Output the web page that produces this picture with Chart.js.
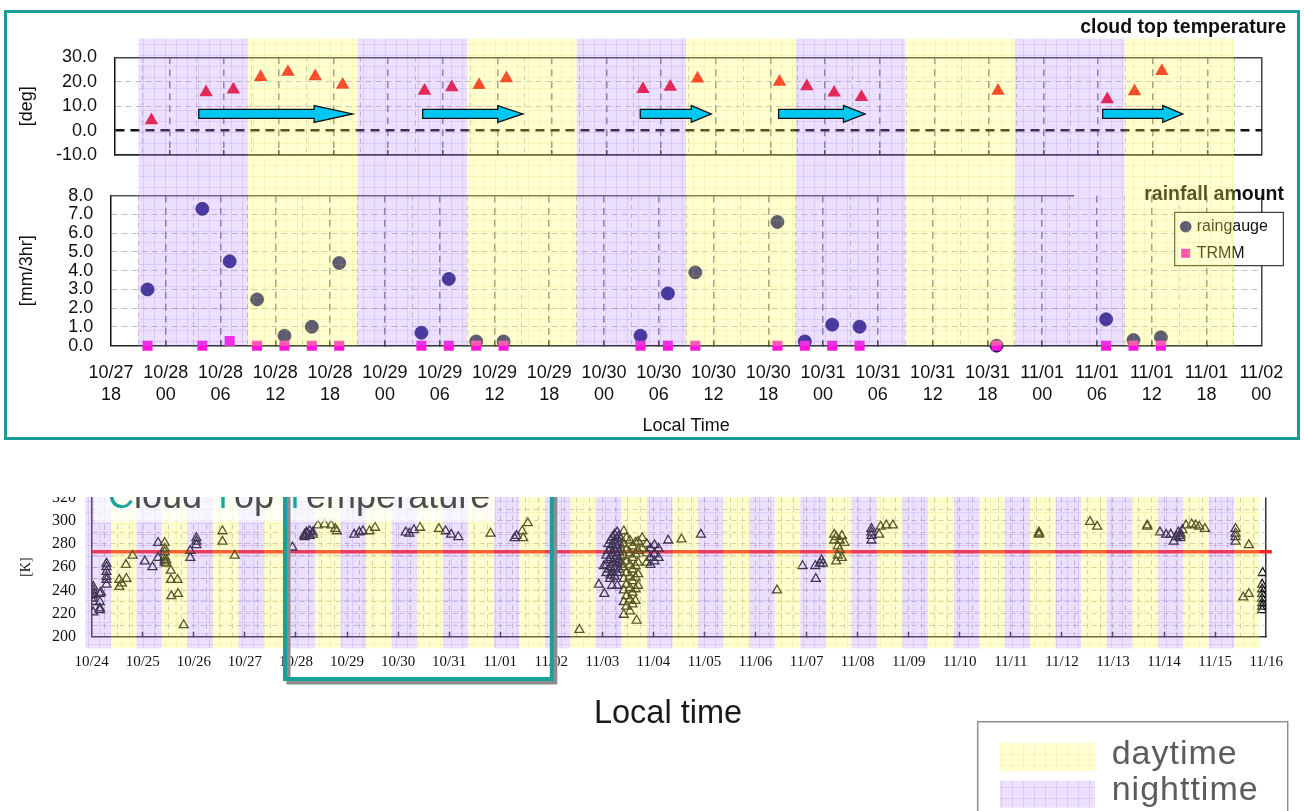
<!DOCTYPE html>
<html><head><meta charset="utf-8">
<script src="https://cdn.jsdelivr.net/npm/chart.js"></script>
<style>
html,body{margin:0;padding:0;background:#fff;width:1304px;height:811px;overflow:hidden;}
#frameTop{position:absolute;left:4px;top:10px;width:1296px;height:430px;box-sizing:border-box;border:3px solid #179c97;z-index:3;}
#cTemp,#cRain{position:absolute;left:0;top:0;}
#cTemp{z-index:1}
#cRain{z-index:2}
#bottomWrap{position:absolute;left:0;top:497px;width:1304px;height:314px;overflow:hidden;}
#cCtt{position:absolute;left:0;top:-40px;}
</style></head><body>
<div id="frameTop"></div>
<canvas id="cTemp" width="1304" height="445"></canvas>
<canvas id="cRain" width="1304" height="445"></canvas>
<div id="bottomWrap"><canvas id="cCtt" width="1304" height="354"></canvas></div>
<script>
// ---------------- DATA (top panel: hours after 10/27 18:00 local) ----------------
const topTickDates = ['10/27','10/28','10/28','10/28','10/28','10/29','10/29','10/29','10/29','10/30','10/30','10/30','10/30','10/31','10/31','10/31','10/31','11/01','11/01','11/01','11/01','11/02'];
const topTickHours = ['18','00','06','12','18','00','06','12','18','00','06','12','18','00','06','12','18','00','06','12','18','00'];
const obsHours = [4,10,13,16,19,22,25,34,37,40,43,58,61,64,73,76,79,82,97,109,112,115];
const cloudTopTempDeg = [4.2,15.7,16.8,21.9,24.0,22.2,18.7,16.3,17.7,18.6,21.4,17.0,17.9,21.3,20.0,18.1,15.5,13.7,16.3,12.8,16.1,24.4];
const raingaugeMm = [3.0,7.3,4.5,2.47,0.53,1.01,4.41,0.69,3.56,0.23,0.23,0.53,2.79,3.91,6.6,0.23,1.12,1.01,0.0,1.41,0.3,0.45];
const trmmMm = [0,0,0.25,0,0,0,0,0,0,0,0,0,0,0,0,0,0,0,0,0,0,0];
const arrowStartHours = [9.2,33.8,57.7,72.9,108.5];
const arrowEndHours = [26.1,44.8,65.5,82.4,117.3];
const arrowLevelDeg = 6.8;
const topNightBands = [[3,15],[27,39],[51,63],[75,87],[99,111]];
const topDayBands = [[15,27],[39,51],[63,75],[87,99],[111,123]];

// ---------------- DATA (bottom panel: days after 10/24 00:00 local, K) ----------------
const cttDateLabels = ['10/24','10/25','10/26','10/27','10/28','10/29','10/30','10/31','11/01','11/02','11/03','11/04','11/05','11/06','11/07','11/08','11/09','11/10','11/11','11/12','11/13','11/14','11/15','11/16'];
const cttDay = [
 0.03,0.03,0.03,0.03,0.03,0.03,0.03,
 0.16,0.16,0.16,0.16,0.18,
 0.29,0.29,0.29,0.29,0.29,0.29,
 0.54,0.54,0.59,0.67,0.68,0.80,1.04,1.19,
 1.30,1.30,1.43,1.43,1.43,1.43,1.43,1.43,1.46,1.46,
 1.55,1.55,1.56,1.68,1.69,1.80,1.93,1.93,
 2.05,2.05,2.05,2.56,2.56,2.80,3.93,
 4.17,4.17,4.17,4.21,4.21,4.27,4.27,4.33,4.33,
 4.43,4.56,4.69,4.77,4.80,5.14,5.24,5.31,5.44,5.55,
 6.15,6.22,6.31,6.43,6.80,6.93,7.04,7.18,7.81,
 8.28,8.32,8.43,8.45,8.54,9.55,
 9.93,10.03,10.04,10.08,10.08,10.08,
 10.12,10.12,10.12,10.12,10.15,
 10.16,10.16,10.16,10.16,10.16,10.19,
 10.20,10.20,10.20,10.20,10.20,
 10.24,10.24,10.24,10.24,10.24,10.24,
 10.29,10.29,10.29,10.29,10.29,10.29,10.29,
 10.33,10.33,10.33,10.33,10.33,
 10.36,10.36,10.36,10.36,
 10.42,10.42,10.42,10.42,10.42,10.42,10.42,10.42,
 10.47,10.47,10.47,10.47,10.47,10.47,10.47,
 10.54,10.54,10.54,10.54,10.54,10.54,10.54,
 10.59,10.59,10.59,10.59,10.59,10.59,
 10.65,10.65,10.65,10.65,10.65,10.65,10.67,
 10.70,10.70,10.70,10.70,10.70,10.78,10.78,
 10.87,10.87,10.87,10.94,10.94,10.94,
 11.02,11.02,11.02,11.10,11.10,
 11.29,11.55,11.93,
 13.42,13.92,14.17,14.18,14.26,14.29,14.32,
 14.54,14.54,14.58,14.58,14.61,14.61,14.65,14.65,14.69,14.69,14.74,
 15.27,15.27,15.27,15.27,15.42,15.45,15.56,15.69,
 18.55,18.55,18.55,19.55,19.69,20.67,20.67,
 20.92,21.04,21.13,21.19,21.24,21.28,21.32,21.32,21.32,
 21.36,21.43,21.54,21.62,21.69,21.80,
 22.40,22.40,22.40,22.40,22.55,22.66,22.66,
 22.92,22.92,22.92,22.92,22.92,22.92,22.92,22.93
];
const cttK = [
 243,240,237,236,233,230,221,
 237,230,224.5,223,238,
 263,260,256,252,249,245,
 249,243,246,262,250,270,265,260,
 281,268,281,276,273,269,266,264,266,263,
 257,249,235,249,237,210,268,274,
 285,282,279,291,282,270,277,
 286,287,288,289,290,287,291,288,290,
 296,297,296,293,291,288,290,291,291,294,
 290,289,292,294,293,291,288,286,289,
 285,287,291,285,298,206,
 245,261,237,255,262,270,
 258,266,274,280,250,
 253,260,268,276,283,244,
 256,264,272,279,286,
 252,259,267,275,282,288,
 244,255,263,270,278,285,290,
 258,266,273,281,287,
 262,269,276,284,
 291,280,270,260,250,240,230,219,
 285,275,265,255,245,235,226,
 283,272,262,252,242,232,222,
 278,268,258,248,238,228,
 281,271,261,251,241,231,214,
 282,274,264,254,244,285,276,
 280,272,264,276,268,262,
 279,271,265,276,268,
 283,284,288,
 240,261,261,250,263,266,263,
 288,283,286,265,278,270,283,275,287,268,281,
 293,290,287,283,288,295,296,296,
 290,288,289,299,295,296,295,
 290,288,288,282,286,290,289,285,287,
 292,296,297,296,295,293,
 293,289,286,282,234,237,279,
 245,241,237,233,229,226,223,255
];
const freezingK = 273.15;
const freezingLineDays = [0, 23.11];
const cttNightBands = [[-0.125,0.375],[0.875,1.375],[1.875,2.375],[2.875,3.375],[3.875,4.375],[4.875,5.375],[5.875,6.375],[6.875,7.375],[7.875,8.375],[8.875,9.375],[9.875,10.375],[10.875,11.375],[11.875,12.375],[12.875,13.375],[13.875,14.375],[14.875,15.375],[15.875,16.375],[16.875,17.375],[17.875,18.375],[18.875,19.375],[19.875,20.375],[20.875,21.375],[21.875,22.375]];
const cttDayBands = [[0.375,0.875],[1.375,1.875],[2.375,2.875],[3.375,3.875],[4.375,4.875],[5.375,5.875],[6.375,6.875],[7.375,7.875],[8.375,8.875],[9.375,9.875],[10.375,10.875],[11.375,11.875],[12.375,12.875],[13.375,13.875],[14.375,14.875],[15.375,15.875],[16.375,16.875],[17.375,17.875],[18.375,18.875],[19.375,19.875],[20.375,20.875],[21.375,21.875],[22.375,22.875]];
const zoomWindowDays = [3.75, 9];

// ---------------- helpers ----------------
const SANS = '"Liberation Sans", Arial, sans-serif';
const SERIF = '"Liberation Serif", "Times New Roman", serif';
Chart.defaults.font.family = SANS;
Chart.defaults.color = '#111';

function makePattern(ctx, base, line, step) {
  const c = document.createElement('canvas'); c.width = step; c.height = step;
  const g = c.getContext('2d');
  g.fillStyle = base; g.fillRect(0, 0, step, step);
  g.fillStyle = line; g.fillRect(0, 0, step, 1); g.fillRect(0, 0, 1, step);
  return ctx.createPattern(c, 'repeat');
}
const purplePat = ctx => makePattern(ctx, 'rgba(181,135,255,0.26)', 'rgba(140,80,230,0.16)', 11);
const yellowPat = ctx => makePattern(ctx, 'rgba(255,255,91,0.275)', 'rgba(210,210,40,0.16)', 11);
function drawBands(ctx, scale, bands, pat, top, bottom) {
  ctx.fillStyle = pat;
  bands.forEach(([a, b]) => {
    const x1 = scale.getPixelForValue(a), x2 = scale.getPixelForValue(b);
    ctx.fillRect(x1, top, x2 - x1, bottom - top);
  });
}
function tv(c) { return c && c.tick ? c.tick.value : null; }

const hourGrid = {
  color: c => { const v = tv(c); if (v === null || v === 0) return 'rgba(0,0,0,0)'; if (v === 126) return '#444'; return v % 6 === 0 ? 'rgba(95,85,105,0.75)' : 'rgba(150,150,150,0.55)'; },
  lineWidth: c => { const v = tv(c); return (v !== null && v % 6 === 0) ? 1.5 : 1; },
  drawTicks: true,
  tickLength: -5,
  tickColor: c => { const v = tv(c); return (v !== null && v % 6 === 0 && v !== 0 && v !== 126) ? '#333' : 'rgba(0,0,0,0)'; },
  tickWidth: 1.5
};
const hourBorder = { display: true, color: '#222', width: 1.5,
  dash: c => { const v = tv(c); if (v === null || v === 126) return []; return v % 6 === 0 ? [7, 5] : [5, 4]; } };

// ---------------- top chart: cloud top temperature ----------------
const tempChart = new Chart(document.getElementById('cTemp'), {
  type: 'scatter',
  data: { datasets: [{
    label: 'cloud top temperature',
    data: obsHours.map((h, i) => ({ x: h, y: cloudTopTempDeg[i] })),
    pointStyle: 'triangle', pointRadius: 7.8, clip: false,
    backgroundColor: '#F5081A', pointBackgroundColor: '#F5081A',
    borderColor: '#F5081A', pointBorderColor: '#F5081A', pointBorderWidth: 0
  }]},
  options: {
    responsive: false, animation: false, devicePixelRatio: 1,
    layout: { padding: { top: 57.3, right: 42, left: 0, bottom: 0 } },
    plugins: { legend: { display: false }, tooltip: { enabled: false }, title: { display: false } },
    scales: {
      x: { type: 'linear', min: 0, max: 126,
        ticks: { display: false, stepSize: 3, autoSkip: false, maxRotation: 0 },
        grid: hourGrid, border: hourBorder,
        afterFit: s => { s.height = 290; } },
      y: { type: 'linear', min: -10, max: 30,
        ticks: { stepSize: 10, autoSkip: false, padding: 18, font: { size: 18 }, color: '#111', callback: v => v.toFixed(1) },
        grid: {
          drawTicks: false,
          color: c => { const v = tv(c); if (v === 30 || v === -10) return '#444'; if (v === 0) return '#111'; return 'rgba(150,150,150,0.6)'; },
          lineWidth: c => { const v = tv(c); if (v === 0) return 2.5; if (v === 30 || v === -10) return 1.5; return 1; }
        },
        border: { display: true, color: '#111', width: 1.5,
          dash: c => { const v = tv(c); if (v === 0) return [9, 6]; if (v === null || v === 30 || v === -10) return []; return [6, 4]; } },
        title: { display: true, text: '[deg]', font: { size: 18 }, color: '#111', padding: { top: 16.2, bottom: 0 } },
        afterFit: s => { s.width = 115; } }
    }
  },
  plugins: [{
    id: 'tempTitle',
    afterDraw(chart) {
      const ctx = chart.ctx;
      ctx.save();
      ctx.font = 'bold 19.5px ' + SANS; ctx.fillStyle = '#111';
      ctx.textAlign = 'right'; ctx.textBaseline = 'middle';
      ctx.fillText('cloud top temperature', 1286, 27.5);
      ctx.restore();
    }
  }]
});

// ---------------- top panel: rainfall amount (draws day/night overlay for the whole panel) ----------------
function drawArrow(ctx, x1, x2, yc) {
  const len = x2 - x1, head = Math.max(20, 0.25 * len), sh = 4.5, hh = 8.4;
  ctx.beginPath();
  ctx.moveTo(x1, yc - sh); ctx.lineTo(x2 - head, yc - sh); ctx.lineTo(x2 - head, yc - hh);
  ctx.lineTo(x2, yc); ctx.lineTo(x2 - head, yc + hh); ctx.lineTo(x2 - head, yc + sh);
  ctx.lineTo(x1, yc + sh); ctx.closePath();
  ctx.fillStyle = '#00C6F2'; ctx.fill();
  ctx.strokeStyle = '#111'; ctx.lineWidth = 1.3; ctx.stroke();
}

const rainChart = new Chart(document.getElementById('cRain'), {
  type: 'scatter',
  data: { datasets: [
    { label: 'TRMM', data: obsHours.map((h, i) => ({ x: h, y: trmmMm[i] })),
      pointStyle: 'rect', pointRadius: 7.1, order: 1, clip: false,
      backgroundColor: '#FF14DC', pointBackgroundColor: '#FF14DC', borderColor: '#FF14DC', pointBorderWidth: 0 },
    { label: 'raingauge', data: obsHours.map((h, i) => ({ x: h, y: raingaugeMm[i] })),
      pointStyle: 'circle', pointRadius: 6.5, order: 2, clip: false,
      backgroundColor: '#221E7E', pointBackgroundColor: '#221E7E', borderColor: '#15124F', pointBorderColor: '#15124F', pointBorderWidth: 0.8 }
  ]},
  options: {
    responsive: false, animation: false, devicePixelRatio: 1,
    layout: { padding: { top: 195.7, right: 39, left: 0, bottom: 0 } },
    plugins: { legend: { display: false }, tooltip: { enabled: false }, title: { display: false } },
    scales: {
      x: { type: 'linear', min: 0, max: 126,
        ticks: { stepSize: 3, autoSkip: false, maxRotation: 0, minRotation: 0, padding: 20.85,
          font: { size: 18, lineHeight: 1.24 }, color: '#111',
          callback: v => (v % 6 === 0 ? [topTickDates[v / 6], topTickHours[v / 6]] : '') },
        grid: hourGrid, border: hourBorder,
        title: { display: true, text: 'Local Time', font: { size: 18 }, color: '#111', padding: { top: 0, bottom: 8.2 } },
        afterFit: s => { s.height = 99.3; } },
      y: { type: 'linear', min: 0, max: 8,
        ticks: { stepSize: 1, autoSkip: false, padding: 17.7, font: { size: 18 }, color: '#111', callback: v => v.toFixed(1) },
        grid: { drawTicks: false,
          color: c => { const v = tv(c); if (v === null || v === 0 || v === 8) return 'rgba(0,0,0,0)'; return 'rgba(150,150,150,0.6)'; },
          lineWidth: 1 },
        border: { display: true, color: '#111', width: 1.5, dash: c => (tv(c) === null ? [] : [6, 4]) },
        title: { display: true, text: '[mm/3hr]', font: { size: 18 }, color: '#111', padding: { top: 16.2, bottom: 0 } },
        afterFit: s => { s.width = 111; } }
    }
  },
  plugins: [{
    id: 'rainDecor',
    afterDatasetsDraw(chart) {
      const { ctx, scales: { x, y } } = chart;
      ctx.save();
      // partial top frame line
      ctx.strokeStyle = '#555'; ctx.lineWidth = 1.5;
      ctx.beginPath(); ctx.moveTo(x.getPixelForValue(0), y.getPixelForValue(8));
      ctx.lineTo(x.getPixelForValue(105.5), y.getPixelForValue(8)); ctx.stroke();
      // title
      ctx.font = 'bold 19.5px ' + SANS; ctx.fillStyle = '#111';
      ctx.textAlign = 'right'; ctx.textBaseline = 'middle';
      ctx.fillText('rainfall amount', 1284, 195);
      // legend
      ctx.fillStyle = '#fff'; ctx.fillRect(1174.7, 212.3, 108.6, 53.4);
      ctx.strokeStyle = '#111'; ctx.lineWidth = 1; ctx.strokeRect(1174.7, 212.3, 108.6, 53.4);
      const gauge = chart.data.datasets[1], trmm = chart.data.datasets[0];
      ctx.fillStyle = gauge.backgroundColor;
      ctx.beginPath(); ctx.arc(1185.7, 226.7, 5.8, 0, Math.PI * 2); ctx.fill();
      ctx.fillStyle = trmm.backgroundColor;
      ctx.fillRect(1181.2, 248.8, 9, 9);
      ctx.font = '16px ' + SANS; ctx.fillStyle = '#111'; ctx.textAlign = 'left';
      ctx.fillText(gauge.label, 1196.7, 227);
      ctx.fillText(trmm.label, 1196.7, 253.5);
      ctx.restore();
    },
    afterDraw(chart) {
      const { ctx, scales: { x }, chartArea } = chart;
      ctx.save();
      drawBands(ctx, x, topNightBands, purplePat(ctx), 38.5, chartArea.bottom);
      drawBands(ctx, x, topDayBands, yellowPat(ctx), 38.5, chartArea.bottom);
      // arrows on the temperature panel (use that chart's scales)
      const tx = tempChart.scales.x, ty = tempChart.scales.y;
      arrowStartHours.forEach((s, i) => {
        drawArrow(ctx, tx.getPixelForValue(s), tx.getPixelForValue(arrowEndHours[i]), ty.getPixelForValue(arrowLevelDeg));
      });
      ctx.restore();
    }
  }]
});

// ---------------- bottom chart: Cloud Top Temperature (K) ----------------
const cttChart = new Chart(document.getElementById('cCtt'), {
  type: 'scatter',
  data: { datasets: [
    { label: 'cloud top temperature [K]', data: cttDay.map((d, i) => ({ x: d, y: cttK[i] })),
      pointStyle: 'triangle', pointRadius: 5.2, order: 1,
      backgroundColor: 'rgba(0,0,0,0)', pointBackgroundColor: 'rgba(0,0,0,0)',
      borderColor: '#151515', pointBorderColor: '#151515', pointBorderWidth: 1.3 },
    { label: '273 K', data: freezingLineDays.map(d => ({ x: d, y: freezingK })),
      showLine: true, borderColor: 'rgb(255,35,35)', borderWidth: 3.5, pointRadius: 0, clip: false, order: 2 }
  ]},
  options: {
    responsive: false, animation: false, devicePixelRatio: 1,
    layout: { padding: { top: 40.5, right: 34.7, left: 0, bottom: 0 } },
    plugins: { legend: { display: false }, tooltip: { enabled: false }, title: { display: false } },
    scales: {
      x: { type: 'linear', min: 0, max: 23,
        ticks: { stepSize: 0.25, autoSkip: false, maxRotation: 0, minRotation: 0, padding: 21,
          font: { family: SERIF, size: 15 }, color: '#111',
          callback: v => (Number.isInteger(v) ? cttDateLabels[v] : '') },
        grid: {
          color: c => { const v = tv(c); if (v === null || v === 0) return 'rgba(0,0,0,0)'; if (v === 23) return '#333'; return 'rgba(140,140,140,0.5)'; },
          lineWidth: c => (tv(c) === 23 ? 1.5 : 1),
          drawTicks: true, tickLength: -5, tickWidth: 1.5,
          tickColor: c => { const v = tv(c); return (v !== null && Number.isInteger(v) && v > 0 && v < 23) ? '#333' : 'rgba(0,0,0,0)'; }
        },
        border: { display: true, color: '#333', width: 1.5, dash: c => { const v = tv(c); return (v === null || v === 23) ? [] : [5, 4]; } },
        afterFit: s => { s.height = 174.3; } },
      y: { type: 'linear', min: 200, max: 320,
        ticks: { stepSize: 10, autoSkip: false, padding: 15.7, font: { family: SERIF, size: 16 }, color: '#111',
          callback: v => (v % 20 === 0 ? String(v) : '') },
        grid: { drawTicks: false,
          color: c => { const v = tv(c); if (v === null || v === 200 || v === 320) return 'rgba(0,0,0,0)'; return 'rgba(140,140,140,0.5)'; },
          lineWidth: 1 },
        border: { display: true, color: '#333', width: 1.5, dash: c => (tv(c) === null ? [] : [5, 4]) },
        title: { display: true, text: '[K]', font: { family: SERIF, size: 14 }, color: '#111', padding: { top: 18.3, bottom: 0 } },
        afterFit: s => { s.width = 91.7; } }
    }
  },
  plugins: [{
    id: 'cttDecor',
    afterDraw(chart) {
      const { ctx, scales: { x } } = chart;
      ctx.save();
      // day / night overlay
      drawBands(ctx, x, cttNightBands, purplePat(ctx), 30, 191.3);
      drawBands(ctx, x, cttDayBands, yellowPat(ctx), 30, 191.3);
      // title box + title text
      ctx.fillStyle = 'rgba(255,255,255,0.72)';
      ctx.fillRect(94, 20, 401, 44.5);
      const segs = [['C', '#1BA3A0'], ['loud ', '#4d4d4d'], ['T', '#1BA3A0'], ['op ', '#4d4d4d'], ['T', '#1BA3A0'], ['emperature', '#4d4d4d']];
      ctx.font = '36px ' + SANS; ctx.textBaseline = 'alphabetic'; ctx.textAlign = 'left';
      let cx = 108;
      segs.forEach(([t, c]) => { ctx.fillStyle = c; ctx.fillText(t, cx, 50.5); cx += ctx.measureText(t).width; });
      // zoom window frame (with shadow)
      const fx1 = x.getPixelForValue(zoomWindowDays[0]) + 1.8, fx2 = x.getPixelForValue(zoomWindowDays[1]) + 0.5;
      const fy1 = -20, fy2 = 222;
      ctx.lineWidth = 4;
      ctx.strokeStyle = '#8c8c8c'; ctx.strokeRect(fx1 + 3.5, fy1 + 3.5, fx2 - fx1, fy2 - fy1);
      ctx.strokeStyle = '#18A09A'; ctx.strokeRect(fx1, fy1, fx2 - fx1, fy2 - fy1);
      // axis caption
      ctx.font = '32.5px ' + SANS; ctx.fillStyle = '#1a1a1a'; ctx.textAlign = 'center'; ctx.textBaseline = 'middle';
      ctx.fillText('Local time', 668, 257);
      // day / night legend
      ctx.fillStyle = '#fff'; ctx.fillRect(977.7, 264.7, 310, 100);
      ctx.strokeStyle = '#8f8f8f'; ctx.lineWidth = 1.5; ctx.strokeRect(977.7, 264.7, 310, 100);
      ctx.fillStyle = yellowPat(ctx); ctx.fillRect(1000, 286.3, 95, 27.7);
      ctx.fillStyle = purplePat(ctx); ctx.fillRect(1000, 323.7, 95, 27);
      ctx.font = '34px ' + SANS; ctx.fillStyle = '#5c5c5c'; ctx.textAlign = 'left'; ctx.textBaseline = 'alphabetic';
      try { ctx.letterSpacing = '1px'; } catch (e) {}
      ctx.fillText('daytime', 1111.7, 307);
      ctx.fillText('nighttime', 1111.7, 343);
      ctx.restore();
    }
  }]
});
</script>
</body></html>
